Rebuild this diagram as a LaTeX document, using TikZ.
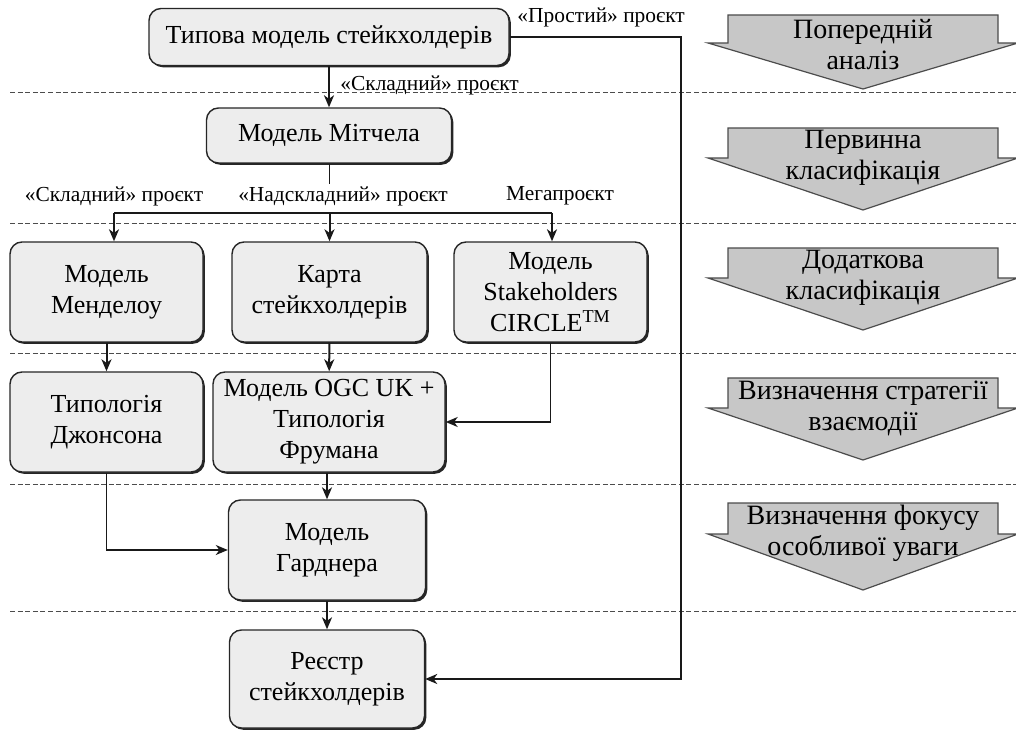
\documentclass[tikz,border=0pt]{standalone}
\usepackage{fontspec}
\setmainfont{Liberation Serif}
\usepackage{tikz}
\usetikzlibrary{arrows.meta,shadows}

\begin{document}
\begin{tikzpicture}[x=0.5pt,y=-0.5pt,
    font=\fontsize{13pt}{15.5pt}\selectfont,
    box/.style={draw=black!85,line width=0.7pt,fill=black!7,rounded corners=6pt,
      align=center,inner sep=2pt,
      drop shadow={shadow xshift=0.9pt,shadow yshift=-0.9pt,fill=black!85,opacity=1}},
    lbl/.style={font=\fontsize{10.7pt}{13pt}\selectfont,inner sep=1pt},
    conn/.style={draw=black!90,line width=1pt},
    arr/.style={conn,-{Stealth[length=6pt,width=5pt,inset=1.8pt]}},
    sep/.style={draw=black!70,line width=0.5pt,dash pattern=on 2.5pt off 1.3pt},
    stagefill/.style={fill=black!22,draw=black!70,line width=0.6pt}]
    \useasboundingbox (0,0) rectangle (1016,731);
    % Draw the dashed separators
    \foreach \y in {93,224,354,484,611}
      \draw[sep] (10,\y) -- (1016,\y);
    % Draw the stage arrows on the right
    \foreach \t/\w/\p/\txt [count=\i] in {15/43/89/{Попередній\\аналіз},
        128/158/210/{Первинна\\класифікація}, 248/278/330/{Додаткова\\класифікація},
        378/408/460/{Визначення стратегії\\взаємодії},
        503/534/590/{Визначення фокусу\\особливої уваги}}{
      \filldraw[stagefill] (728,\t) -- (998,\t) -- (998,\w) -- (1018,\w) -- (863,\p)
        -- (708,\w) -- (728,\w) -- cycle;
      \node[align=center,font=\fontsize{14pt}{15.5pt}\selectfont] (stage\i) at (863,{\t+30}) {\txt};
    }
    % Draw the models
    \node[box,minimum width=180pt,minimum height=28.5pt] (typ) at (329,37) {Типова модель стейкхолдерів};
    \node[box,minimum width=122.5pt,minimum height=27.5pt] (mit) at (329,135.5) {Модель Мітчела};
    \node[box,minimum width=96.5pt,minimum height=50pt] (men) at (106.5,292) {Модель\\Менделоу};
    \node[box,minimum width=97.5pt,minimum height=50pt] (kar) at (329.5,292) {Карта\\стейкхолдерів};
    \node[box,minimum width=96.5pt,minimum height=50pt] (stk) at (550.5,292) {Модель\\Stakeholders\\CIRCLE\textsuperscript{TM}};
    \node[box,minimum width=96.5pt,minimum height=50pt] (dzh) at (106.5,422) {Типологія\\Джонсона};
    \node[box,minimum width=116pt,minimum height=50pt] (ogc) at (329,422) {Модель OGC UK +\\Типологія\\Фрумана};
    \node[box,minimum width=98.5pt,minimum height=50pt] (gar) at (327,550) {Модель\\Гарднера};
    \node[box,minimum width=97.5pt,minimum height=49pt] (reg) at (327,679) {Реєстр\\стейкхолдерів};
    % Draw the labels of the branches
    \node[lbl,anchor=west] (lblsimple) at (515,17) {«Простий» проєкт};
    \node[lbl,anchor=west] (lbltop) at (338,85) {«Складний» проєкт};
    \node[lbl] (lblcomplex) at (114,196) {«Складний» проєкт};
    \node[lbl] (lblsuper) at (343,196) {«Надскладний» проєкт};
    \node[lbl] (lblmega) at (560,196) {Мегапроєкт};
    % Draw the connectors
    \coordinate (busL) at (114,213);
    \coordinate (busR) at (552,213);
    \coordinate (bypass) at (681,360);
    \draw[arr] (typ) -- (mit);
    \draw[conn,line width=0.5pt] (mit.south) -- ++(0,20);
    \draw[conn] (busL) -- (busR);
    \draw[arr] (busL) -- (busL |- men.north);
    \draw[arr] (kar.north |- busL) -- (kar);
    \draw[arr] (busR) -- (busR |- stk.north);
    \draw[arr] (men) -- (dzh);
    \draw[arr] (kar) -- (ogc);
    \draw[arr,line width=0.8pt] (stk.south) |- (ogc.east);
    \draw[arr,line width=0.8pt] (dzh.south) |- (gar.west);
    \draw[arr] (ogc.south -| gar) -- (gar);
    \draw[arr] (gar) -- (reg);
    \draw[arr] (typ.east) -| (bypass) |- (reg.east);
\end{tikzpicture}
\end{document}
